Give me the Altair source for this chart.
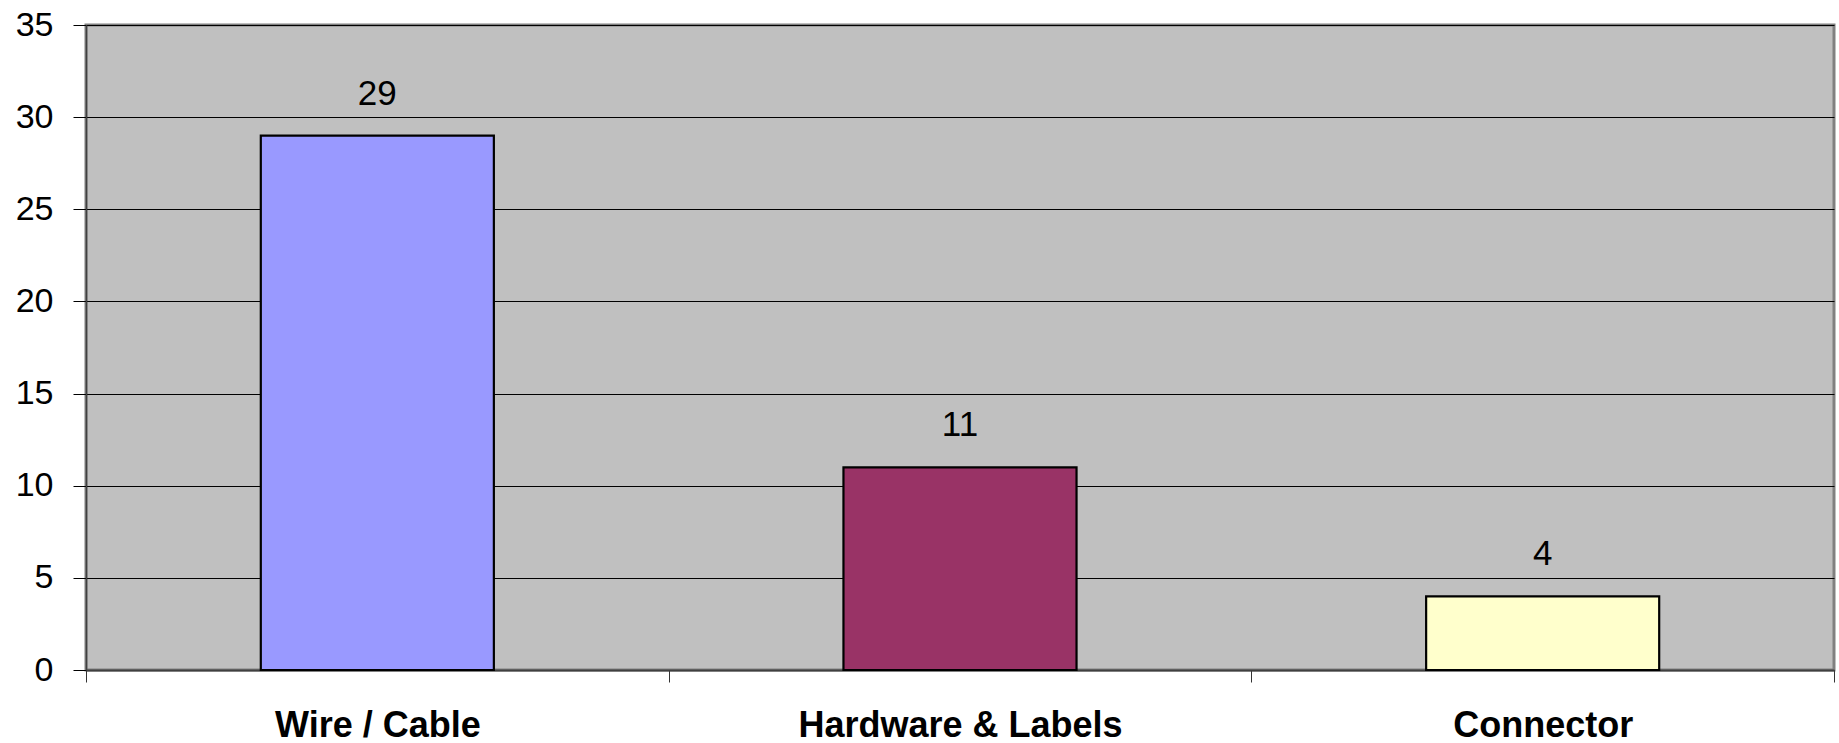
import altair as alt
import pandas as pd

categories = ["Wire / Cable", "Hardware & Labels", "Connector"]
values = [29, 11, 4]
colors = ["#9999FF", "#993366", "#FFFFCC"]

df = pd.DataFrame({"cat": categories, "val": values, "col": colors})

W, H = 1748, 645
FONT = "Liberation Sans"

x = alt.X("cat:N", sort=categories, title=None,
          scale=alt.Scale(paddingInner=0, paddingOuter=0),
          axis=alt.Axis(labelAngle=0, labelFont=FONT, labelFontSize=36, labelFontWeight="bold",
                        labelColor="black", labelPadding=26, labelLimit=0, tickSize=12,
                        tickColor="#333333", tickBand="extent",
                        domainColor="#404040", domainWidth=2, grid=False))
y = alt.Y("val:Q", title=None,
          scale=alt.Scale(domain=[0, 35], nice=False),
          axis=alt.Axis(values=[0, 5, 10, 15, 20, 25, 30, 35], labelFont=FONT, labelFontSize=34,
                        labelColor="black", labelPadding=20, tickSize=13, tickColor="black",
                        domainColor="#404040", domainWidth=1.5, grid=True, gridColor="black",
                        gridWidth=1))

bars = alt.Chart(df).mark_bar(stroke="black", strokeWidth=2.2,
                              width=alt.RelativeBandSize(0.4)).encode(
    x=x, y=y, color=alt.Color("col:N", scale=None))

labels = alt.Chart(df).mark_text(font=FONT, fontSize=35, dy=-31, baseline="alphabetic",
                                 color="black").encode(
    x=alt.X("cat:N", sort=categories), y="val:Q", text="val:Q")

chart = alt.layer(bars, labels).properties(
    width=W, height=H,
    autosize=alt.AutoSizeParams(type="none"),
    padding={"left": 86, "top": 25, "right": 5, "bottom": 73},
    background="white",
).configure_view(fill="#C0C0C0", stroke="#808080", strokeWidth=3)

chart.save("out.html", embed_options={"renderer": "svg", "actions": False})
